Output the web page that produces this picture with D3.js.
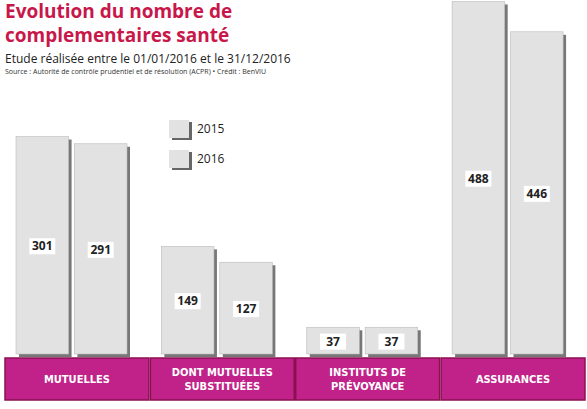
<!DOCTYPE html>
<html><head><meta charset="utf-8">
<script src="https://cdn.jsdelivr.net/npm/d3@7"></script>
<style>body{margin:0;background:#fff}svg{font-family:"Open Sans",sans-serif}</style>
</head><body><script>
var categories = [["MUTUELLES"], ["DONT MUTUELLES", "SUBSTITUÉES"], ["INSTITUTS DE", "PRÉVOYANCE"], ["ASSURANCES"]]
var years = ["2015", "2016"]
var v2015 = [301, 149, 37, 488]
var v2016 = [291, 127, 37, 446]

var svg = d3.select("body").append("svg").attr("width", 587).attr("height", 409)
var base = 354

var x = d3.scaleBand().domain(d3.range(4)).range([5, 585]).paddingInner(0.01)
var xs = d3.scaleBand().domain(years).range([11, 122]).paddingInner(0.1)
var y = d3.scaleLinear().domain([0, 490]).range([base, 0])

categories.forEach(function(c, i) {
  var g = svg.append("g").attr("transform", "translate(" + x(i) + ",0)")
  ;[v2015[i], v2016[i]].forEach(function(v, j) {
    var bx = xs(years[j]), w = xs.bandwidth()
    g.append("rect").attr("x", bx + 3).attr("y", y(v) + 3).attr("width", w).attr("height", base - y(v))
      .attr("fill", "#777")
    g.append("rect").attr("x", bx).attr("y", y(v)).attr("width", w).attr("height", base - y(v))
      .attr("fill", "#e2e2e2").attr("stroke", "#bbb").attr("stroke-width", 0.6)
    var ty = v < 60 ? y(v) + (base - y(v)) / 2 + 5 : (y(v) + base) / 2 + 5
    g.append("rect").attr("x", bx + w / 2 - 13).attr("y", ty - 12).attr("width", 26).attr("height", 16).attr("fill", "#fff")
    g.append("text").attr("x", bx + w / 2).attr("y", ty).attr("text-anchor", "middle")
      .attr("font-size", 12).attr("font-weight", "bold").attr("fill", "#222").text(v)
  })
  g.append("rect").attr("x", 0).attr("y", 358).attr("width", x.bandwidth()).attr("height", 42)
    .attr("fill", "#c1228a").attr("stroke", "#8a1050").attr("stroke-width", 1.5)
  c.forEach(function(t, k) {
    g.append("text").attr("x", x.bandwidth() / 2).attr("y", 383 + (k - (c.length - 1) / 2) * 14)
      .attr("text-anchor", "middle").attr("font-size", 11).attr("font-weight", "bold")
      .attr("font-family", "'Liberation Sans Narrow','DejaVu Sans Condensed',sans-serif")
      .attr("fill", "#fff").text(t)
  })
})

years.forEach(function(yr, i) {
  var ly = 120 + i * 30
  svg.append("rect").attr("x", 172).attr("y", ly + 2).attr("width", 20).attr("height", 18).attr("fill", "#666")
  svg.append("rect").attr("x", 169).attr("y", ly).attr("width", 20).attr("height", 18).attr("fill", "#e2e2e2")
  svg.append("text").attr("x", 197).attr("y", ly + 13).attr("font-size", 12).attr("fill", "#222").text(yr)
})

svg.append("text").attr("x", 5).attr("y", 18).attr("font-size", 19).attr("font-weight", "bold").attr("fill", "#c8174a").text("Evolution du nombre de")
svg.append("text").attr("x", 5).attr("y", 42).attr("font-size", 19).attr("font-weight", "bold").attr("fill", "#c8174a").text("complementaires santé")
svg.append("text").attr("x", 5).attr("y", 63).attr("font-size", 12).attr("fill", "#222").text("Etude réalisée entre le 01/01/2016 et le 31/12/2016")
svg.append("text").attr("x", 5).attr("y", 74).attr("font-size", 7).attr("fill", "#333").text("Source : Autorité de contrôle prudentiel et de résolution (ACPR) • Crédit : BenVIU")
</script></body></html>
